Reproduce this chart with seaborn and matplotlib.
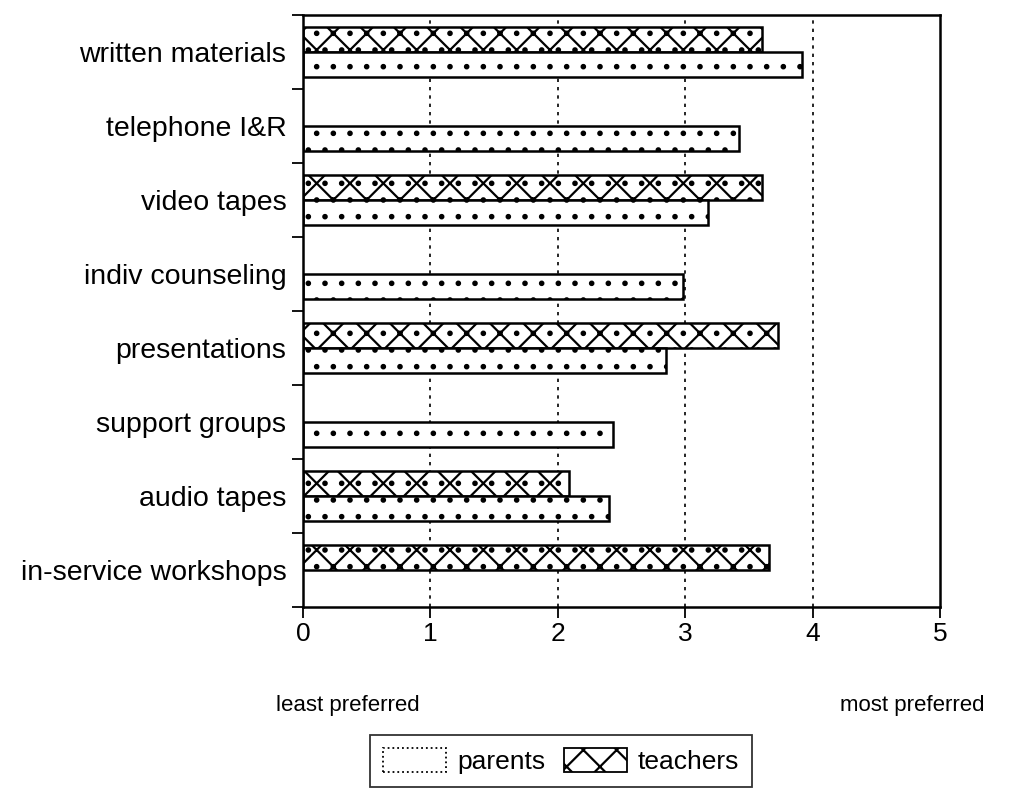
import numpy as np
import pandas as pd
import matplotlib
matplotlib.use("Agg")
import matplotlib.pyplot as plt
import seaborn as sns
from matplotlib.patches import Patch

# preference scores (0 = least preferred, 5 = most preferred)
categories = ["written materials", "telephone I&R", "video tapes", "indiv counseling",
              "presentations", "support groups", "audio tapes", "in-service workshops"]
parents = [3.92, 3.42, 3.18, 2.98, 2.85, 2.43, 2.40, np.nan]
teachers = [3.60, np.nan, 3.60, np.nan, 3.73, np.nan, 2.09, 3.66]
groups = ["teachers", "parents"]
x_ticks = [0, 1, 2, 3, 4, 5]

df = pd.DataFrame({
    "method": categories * 2,
    "group": ["teachers"] * len(categories) + ["parents"] * len(categories),
    "score": teachers + parents,
}).dropna()

sns.set_style("white")
plt.rcParams["font.family"] = ["Liberation Sans", "DejaVu Sans"]
plt.rcParams["hatch.linewidth"] = 1.6
for key in ["text.color", "axes.labelcolor", "xtick.color", "ytick.color"]:
    plt.rcParams[key] = "black"

fig = plt.figure(figsize=(10.19, 7.91), dpi=100)
ax = fig.add_axes([0.2974, 0.2326, 0.6251, 0.7484])

# dotted grid behind the bars
for x in x_ticks[1:-1]:
    ax.axvline(x, color="black", linestyle=(0, (2, 3)), linewidth=1.2, zorder=0.5)

sns.barplot(
    data=df, y="method", x="score", hue="group",
    order=categories, hue_order=groups, orient="h",
    width=0.68, palette={"teachers": "white", "parents": "white"},
    edgecolor="black", linewidth=1.8, errorbar=None, legend=False, ax=ax,
)

hatches = {"teachers": "x.", "parents": "."}
for container, grp in zip(ax.containers, groups):
    for bar in container:
        bar.set_hatch(hatches[grp])
        bar.set_zorder(2)

ax.set_xlim(0, 5)
ax.set_ylim(7.5, -0.5)
ax.set_xticks(x_ticks)
ax.set_xticklabels([str(t) for t in x_ticks], fontsize=19)
ax.set_yticks(np.arange(-0.5, len(categories), 1), minor=True)
ax.tick_params(axis="y", which="major", left=False, length=0, pad=12, labelsize=20.5)
ax.tick_params(axis="y", which="minor", left=True, length=8, width=1.3, direction="out")
ax.tick_params(axis="x", which="major", bottom=True, length=8, width=1.3, direction="out", pad=3)
ax.set_xlabel("")
ax.set_ylabel("")
for sp in ax.spines.values():
    sp.set_visible(True)
    sp.set_color("black")
    sp.set_linewidth(1.8)

fig.text(348 / 1019, 1 - 705 / 791, "least preferred", ha="center", va="center", fontsize=16)
fig.text(912 / 1019, 1 - 705 / 791, "most preferred", ha="center", va="center", fontsize=16)

handles = [
    Patch(facecolor="white", edgecolor="black", linestyle=":", linewidth=1.3),
    Patch(facecolor="white", edgecolor="black", hatch="x", linewidth=1.3),
]
leg = fig.legend(handles, ["parents", "teachers"], ncol=2, loc="upper left",
                 bbox_to_anchor=(0.363, 0.0708), borderaxespad=0, frameon=True,
                 fancybox=False, edgecolor="black", fontsize=19, handlelength=2.4,
                 handleheight=1.0, columnspacing=0.7, handletextpad=0.4, borderpad=0.5)
leg.get_frame().set_linewidth(1.3)

fig.savefig("out.png", dpi=100)
